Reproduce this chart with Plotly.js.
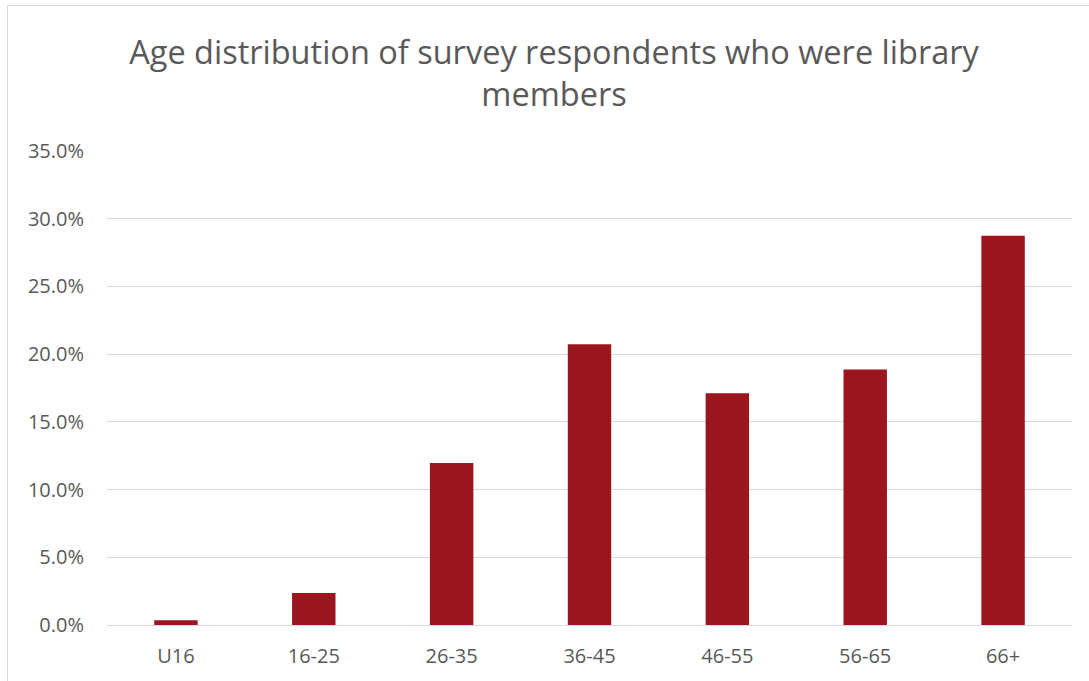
<!DOCTYPE html>
<html>
<head>
<meta charset="utf-8">
<script src="https://cdn.plot.ly/plotly-3.0.1.min.js"></script>
<style>
  html, body { margin: 0; padding: 0; background: #ffffff; overflow: hidden; }
  #frame { position: absolute; left: 7px; top: 5px; width: 1200px; height: 800px; border: 1px solid #d9d9d9; box-sizing: border-box; }
  #chart { position: absolute; left: 0; top: 0; width: 1089px; height: 681px; }
</style>
</head>
<body>
<div id="frame"></div>
<div id="chart"></div>
<script>
const categories = ["U16", "16-25", "26-35", "36-45", "46-55", "56-65", "66+"];
const shares = [0.0035, 0.0236, 0.1196, 0.2073, 0.1711, 0.1886, 0.2875];
const titleText = "Age distribution of survey respondents who were library<br>members";

const trace = {
  type: "bar",
  x: categories,
  y: shares,
  marker: { color: "#9b151e" },
  hoverinfo: "x+y"
};

const layout = {
  width: 1089,
  height: 681,
  paper_bgcolor: "rgba(0,0,0,0)",
  plot_bgcolor: "rgba(0,0,0,0)",
  margin: { l: 107, r: 17, t: 151, b: 56 },
  bargap: 0.685,
  showlegend: false,
  title: {
    text: titleText,
    font: { family: "'Open Sans', sans-serif", size: 32.5, color: "#595959" },
    x: 554 / 1089,
    xref: "container",
    xanchor: "center",
    y: 1 - 64 / 681,
    yref: "container",
    yanchor: "middle"
  },
  xaxis: {
    type: "category",
    showgrid: false,
    showline: false,
    zeroline: false,
    ticks: "",
    tickfont: { family: "'Open Sans', sans-serif", size: 20, color: "#595959" },
    ticklabelstandoff: 17
  },
  yaxis: {
    range: [0, 0.35],
    dtick: 0.05,
    tick0: 0,
    tickformat: ".1%",
    showgrid: true,
    gridcolor: "#d9d9d9",
    gridwidth: 1,
    zeroline: true,
    zerolinecolor: "#d9d9d9",
    zerolinewidth: 1,
    showline: false,
    ticks: "",
    tickfont: { family: "'Open Sans', sans-serif", size: 20, color: "#595959" },
    ticklabelstandoff: 22
  }
};

Plotly.newPlot("chart", [trace], layout, { displayModeBar: false, staticPlot: true });
</script>
</body>
</html>
